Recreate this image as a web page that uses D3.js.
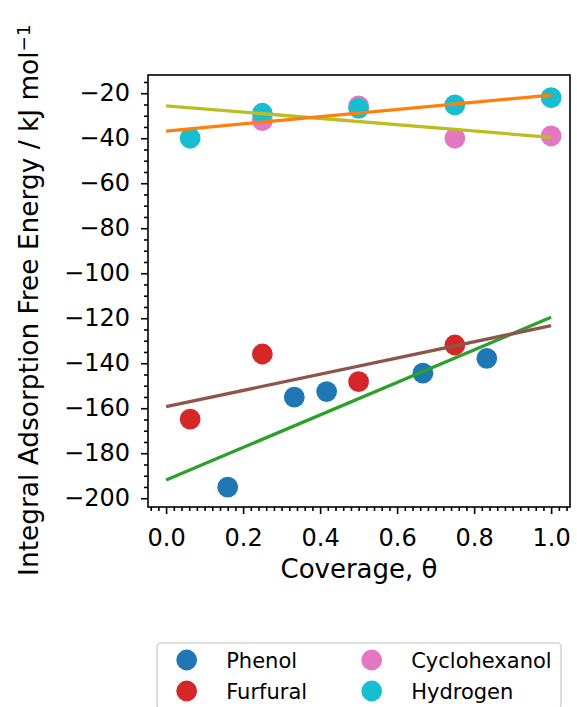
<!DOCTYPE html>
<html lang="en">
	<head>
		<meta charset="UTF-8" />
		<script src="https://d3js.org/d3.v7.min.js"></script>
		<title>Integral Adsorption Free Energy</title>
		<style>
			body { margin: 0; background: #fff; }
			text { font-family: "DejaVu Sans", sans-serif; fill: #000; }
		</style>
	</head>
	<body>
		<script>
			var w = 577;
			var h = 707;

			// points
			var phenolX = [0.16, 0.333, 0.417, 0.667, 0.833];
			var phenolY = [-195.1, -155.1, -152.6, -144.4, -137.8];
			var furfuralX = [0.0625, 0.25, 0.5, 0.75];
			var furfuralY = [-164.8, -135.9, -148.2, -131.9];
			var cyclohexanolX = [0.25, 0.5, 0.75, 1.0];
			var cyclohexanolY = [-32.2, -25.6, -40.0, -39.0];
			var hydrogenX = [0.0625, 0.25, 0.5, 0.75, 1.0];
			var hydrogenY = [-40.0, -28.9, -26.7, -25.2, -22.0];

			// fitted lines, ends at coverage 0 and 1
			var fitX = [0, 1];
			var phenolFit = [-191.9, -119.6];
			var furfuralFit = [-159.3, -123.3];
			var cyclohexanolFit = [-25.6, -39.6];
			var hydrogenFit = [-36.8, -20.8];

			var xTicks = [0, 0.2, 0.4, 0.6, 0.8, 1.0];
			var yTicks = [-200, -180, -160, -140, -120, -100, -80, -60, -40, -20];

			var names = ["Phenol", "Furfural", "Cyclohexanol", "Hydrogen"];

			var series = [
				{ xs: phenolX, ys: phenolY, color: "#1f77b4" },
				{ xs: furfuralX, ys: furfuralY, color: "#d62728" },
				{ xs: cyclohexanolX, ys: cyclohexanolY, color: "#e377c2" },
				{ xs: hydrogenX, ys: hydrogenY, color: "#17becf" }
			];
			var fits = [
				{ ys: phenolFit, color: "#2ca02c" },
				{ ys: furfuralFit, color: "#8c564b" },
				{ ys: cyclohexanolFit, color: "#bcbd22" },
				{ ys: hydrogenFit, color: "#ff7f0e" }
			];

			// plot area (window.top is reserved, so no plain "top")
			var axL = 148, axR = 570, axT = 75, axB = 507;

			var xScale = d3.scaleLinear().domain([-0.047, 1.049]).range([axL, axR]);
			var yScale = d3.scaleLinear().domain([-203.9, -11.9]).range([axB, axT]);

			var svg = d3.select("body").append("svg")
				.attr("width", w)
				.attr("height", h);

			// minor ticks
			var xMinor = d3.range(-0.04, 1.045, 0.02).filter(function (d) {
				return Math.abs(Math.round(d * 5) - d * 5) > 0.01;
			});
			var yMinor = d3.range(-200, -14, 5).filter(function (d) {
				return d % 20 !== 0;
			});

			svg.append("g")
				.attr("transform", "translate(0," + axB + ")")
				.call(d3.axisBottom(xScale).tickValues(xMinor).tickSize(4).tickFormat(""))
				.call(function (g) { g.select(".domain").remove(); })
				.selectAll("line").attr("stroke-width", 1.6);

			svg.append("g")
				.attr("transform", "translate(" + axL + ",0)")
				.call(d3.axisLeft(yScale).tickValues(yMinor).tickSize(4).tickFormat(""))
				.call(function (g) { g.select(".domain").remove(); })
				.selectAll("line").attr("stroke-width", 1.6);

			// major ticks
			var xAxis = svg.append("g")
				.attr("transform", "translate(0," + axB + ")")
				.call(d3.axisBottom(xScale).tickValues(xTicks).tickSize(7).tickPadding(15).tickFormat(d3.format(".1f")));
			xAxis.select(".domain").remove();
			xAxis.selectAll("line").attr("stroke-width", 1.6);
			xAxis.selectAll("text").attr("font-size", "24px").attr("font-family", "DejaVu Sans");

			var yAxis = svg.append("g")
				.attr("transform", "translate(" + axL + ",0)")
				.call(d3.axisLeft(yScale).tickValues(yTicks).tickSize(7).tickPadding(11).tickFormat(d3.format("d")));
			yAxis.select(".domain").remove();
			yAxis.selectAll("line").attr("stroke-width", 1.6);
			yAxis.selectAll("text").attr("font-size", "24px").attr("font-family", "DejaVu Sans");

			// points
			series.forEach(function (s) {
				svg.append("g").selectAll("circle")
					.data(s.xs)
					.enter()
					.append("circle")
					.attr("cx", function (d) { return xScale(d); })
					.attr("cy", function (d, i) { return yScale(s.ys[i]); })
					.attr("r", 10.4)
					.attr("fill", s.color);
			});

			// fitted lines
			var line = d3.line()
				.x(function (d) { return xScale(d[0]); })
				.y(function (d) { return yScale(d[1]); });

			fits.forEach(function (f) {
				svg.append("path")
					.datum(fitX.map(function (x, i) { return [x, f.ys[i]]; }))
					.attr("d", line)
					.attr("fill", "none")
					.attr("stroke", f.color)
					.attr("stroke-width", 3.3);
			});

			// frame
			svg.append("rect")
				.attr("x", axL)
				.attr("y", axT)
				.attr("width", axR - axL)
				.attr("height", axB - axT)
				.attr("fill", "none")
				.attr("stroke", "#000")
				.attr("stroke-width", 1.6);

			// axis labels
			svg.append("text")
				.attr("x", (axL + axR) / 2)
				.attr("y", 578)
				.attr("text-anchor", "middle")
				.attr("font-size", "26px")
				.text("Coverage, θ");

			var yLab = svg.append("text")
				.attr("transform", "translate(38,300) rotate(-90)")
				.attr("text-anchor", "middle")
				.attr("font-size", "26.4px");
			yLab.append("tspan").text("Integral Adsorption Free Energy / kJ mol");
			yLab.append("tspan")
				.attr("dy", "-0.45em")
				.attr("font-size", "18.5px")
				.text("−1");

			// legend
			var legend = svg.append("g");
			legend.append("rect")
				.attr("x", 157)
				.attr("y", 643)
				.attr("width", 404)
				.attr("height", 66)
				.attr("rx", 4)
				.attr("fill", "#fff")
				.attr("stroke", "#d5d5d5")
				.attr("stroke-width", 1.6);

			var colX = [186.7, 371.7];
			var rowY = [660, 691];
			series.forEach(function (s, i) {
				var cx = colX[Math.floor(i / 2)];
				var cy = rowY[i % 2];
				legend.append("circle")
					.attr("cx", cx)
					.attr("cy", cy)
					.attr("r", 10.4)
					.attr("fill", s.color);
				legend.append("text")
					.attr("x", cx + 39.5)
					.attr("y", cy + 7.5)
					.attr("font-size", "21px")
					.text(names[i]);
			});
		</script>
	</body>
</html>
